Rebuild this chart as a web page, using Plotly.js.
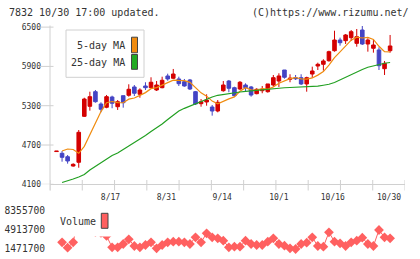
<!DOCTYPE html>
<html><head><meta charset="utf-8">
<script src="https://cdn.plot.ly/plotly-3.0.1.min.js"></script>
<style>html,body{margin:0;padding:0;background:#fff}#c{width:420px;height:259px}</style>
</head><body><div id="c"></div><script>
const dates = ['8/3','8/4','8/5','8/6','8/7','8/11','8/12','8/13','8/14','8/17','8/18','8/19','8/20','8/21','8/24','8/25','8/26','8/27','8/28','8/31',
 '9/1','9/2','9/3','9/4','9/7','9/8','9/9','9/10','9/11','9/14','9/15','9/16','9/17','9/18','9/23','9/24','9/25','9/28','9/29','9/30',
 '10/2','10/5','10/6','10/7','10/8','10/9','10/12','10/13','10/14','10/15','10/16','10/19','10/20','10/21','10/22','10/23','10/26','10/27','10/28','10/29','10/30'];
const openP  = [4600,4573,4521,4379,4436,5138,5291,5514,5326,5276,5433,5285,5453,5459,5586,5474,5601,5575,5540,5575,5754,5719,5708,5667,5693,5514,5331,5357,5280,5219,5529,5677,5575,5555,5616,5586,5484,5529,5514,5616,5677,5845,5703,5728,5728,5632,5784,5906,5932,5987,6140,6303,6293,6339,6252,6456,6242,6177,6151,5865,6140];
const highP  = [4606,4608,4547,4421,4929,5422,5514,5540,5352,5464,5453,5387,5453,5627,5616,5566,5658,5734,5677,5743,5789,5861,5743,5708,5708,5525,5402,5474,5311,5387,5677,5693,5590,5677,5642,5601,5566,5601,5632,5769,5795,5845,5780,5769,5780,5743,5896,5957,6009,6140,6445,6339,6395,6456,6471,6520,6329,6303,6192,5983,6380];
const lowP   = [4600,4445,4415,4369,4353,5128,5224,5346,5199,5261,5261,5235,5270,5438,5448,5422,5540,5566,5525,5566,5682,5708,5601,5590,5540,5311,5285,5300,5148,5199,5514,5505,5438,5540,5514,5438,5474,5490,5499,5590,5586,5713,5658,5693,5616,5514,5728,5845,5835,5972,6125,6217,6242,6288,6201,6227,6125,6110,5845,5769,6110];
const closeP = [4606,4512,4456,4405,4894,5402,5438,5361,5245,5438,5337,5361,5346,5551,5490,5540,5575,5658,5616,5688,5708,5784,5636,5601,5555,5326,5361,5387,5219,5352,5616,5566,5453,5658,5575,5463,5551,5551,5632,5728,5754,5734,5719,5713,5632,5728,5830,5932,5983,6125,6303,6262,6380,6430,6354,6242,6303,6227,5911,5947,6212];
const ma5  = [null,4608,4639,4631,4574,4680,4860,5050,5210,5345,5364,5348,5345,5400,5417,5458,5500,5560,5576,5615,5649,5691,5686,5683,5657,5580,5496,5446,5370,5329,5370,5405,5435,5520,5574,5543,5540,5560,5554,5585,5643,5680,5713,5730,5710,5705,5724,5767,5821,5920,6035,6121,6211,6300,6346,6334,6342,6311,6207,6126,6120];
const ma25 = [null,4128,4150,4181,4212,4250,4318,4372,4433,4486,4540,4578,4631,4677,4738,4792,4845,4906,4960,5021,5089,5158,5219,5260,5296,5326,5357,5395,5433,5459,5474,5490,5499,5509,5520,5529,5537,5548,5555,5561,5566,5574,5578,5580,5581,5583,5586,5598,5612,5627,5654,5693,5738,5780,5822,5853,5887,5911,5929,5948,5960];
const volume = [null,2676000,1705000,2676000,7500000,6200000,5200000,4500000,4350000,3810000,1777000,1777000,2370000,3215000,2011000,1777000,2191000,2676000,1597000,2191000,2676000,2784000,2784000,2676000,2370000,3575000,2676000,4294000,3575000,3395000,2964000,1777000,1885000,1885000,2964000,2370000,2191000,2191000,2784000,3395000,2370000,2065000,1597000,1472000,2370000,2604000,3575000,2011000,1885000,4473000,2784000,2496000,2011000,2676000,2964000,3503000,2370000,2011000,4887000,3575000,3395000];
const priceTicks = [4100,4700,5300,5900,6500];
const volTicks = [1471700,4913700,8355700];
const dateLabels = ['8/17','8/31','9/14','10/1','10/16','10/30'];
const dateLabelPos = [9.7,19.75,29.8,40.0,49.7,59.8];

const W=420,H=259;
const px=x=>x/W, py=y=>1-y/H;
const xi = dates.map((d,i)=>i);
const XR=[-1.17,62.68];
const mono='DejaVu Sans Mono';

const traces=[
 {type:'candlestick',x:xi,open:openP,high:highP,low:lowP,close:closeP,xaxis:'x',yaxis:'y',
  increasing:{line:{color:'#d40000',width:1},fillcolor:'#d40000'},
  decreasing:{line:{color:'#4444c4',width:1},fillcolor:'#4444c4'},
  whiskerwidth:0,showlegend:false,hoverinfo:'skip'},
 {type:'scatter',mode:'lines',x:xi,y:ma5,line:{color:'#f08c10',width:1.2},xaxis:'x',yaxis:'y',showlegend:false},
 {type:'scatter',mode:'lines',x:xi,y:ma25,line:{color:'#22a022',width:1.2},xaxis:'x',yaxis:'y',showlegend:false},
 {type:'scatter',mode:'lines+markers',x:xi,y:volume,line:{color:'#ff6060',width:1},
  marker:{symbol:'diamond',size:7.5,color:'#ff6060'},xaxis:'x2',yaxis:'y2',showlegend:false,connectgaps:false}
];

const shapes=[];
for(let k=0;k<=11;k++){
  const xv = XR[0]+k*(XR[1]-XR[0])/11;
  shapes.push({type:'line',xref:'x',yref:'paper',x0:xv,x1:xv,y0:py(180),y1:py(190.5),line:{color:'#d0d0d0',width:1}});
}
priceTicks.forEach(v=>shapes.push({type:'line',xref:'paper',yref:'y',x0:px(40),x1:px(53.5),y0:v,y1:v,line:{color:'#d0d0d0',width:1}}));
shapes.push({type:'line',xref:'paper',yref:'paper',x0:px(50),x1:px(50),y0:py(190.5),y1:py(25.5),line:{color:'#d0d0d0',width:1}});
shapes.push({type:'rect',xref:'paper',yref:'paper',x0:px(66),x1:px(144),y0:py(77.3),y1:py(30),line:{color:'#d0d0d0',width:1},fillcolor:'#fff',layer:'above'});
shapes.push({type:'rect',xref:'paper',yref:'paper',x0:px(131.5),x1:px(137.5),y0:py(52.8),y1:py(37.2),line:{color:'#444',width:1},fillcolor:'#f08c10',layer:'above'});
shapes.push({type:'rect',xref:'paper',yref:'paper',x0:px(131.5),x1:px(137.5),y0:py(69.3),y1:py(54.5),line:{color:'#444',width:1},fillcolor:'#22aa22',layer:'above'});
shapes.push({type:'rect',xref:'paper',yref:'paper',x0:px(52),x1:px(112),y0:py(236.5),y1:py(202),line:{width:0},fillcolor:'#fff',layer:'above'});
shapes.push({type:'rect',xref:'paper',yref:'paper',x0:px(101.3),x1:px(108),y0:py(228.3),y1:py(213.3),line:{color:'#444',width:1},fillcolor:'#ff6060',layer:'above'});

const annotations=[
 {text:'7832 10/30 17:00 updated.',xref:'paper',yref:'paper',x:px(7),y:py(12.5),xanchor:'left',yanchor:'middle',showarrow:false,font:{family:mono,size:10,color:'#333'}},
 {text:'(C)https://www.rizumu.net/',xref:'paper',yref:'paper',x:px(411),y:py(12.5),xanchor:'right',yanchor:'middle',showarrow:false,font:{family:mono,size:10,color:'#333'}},
 {text:'5-day MA',xref:'paper',yref:'paper',x:px(127.5),y:py(46),xanchor:'right',yanchor:'middle',showarrow:false,font:{family:mono,size:10,color:'#333'}},
 {text:'25-day MA',xref:'paper',yref:'paper',x:px(127.5),y:py(63),xanchor:'right',yanchor:'middle',showarrow:false,font:{family:mono,size:10,color:'#333'}},
 {text:'Volume',xref:'paper',yref:'paper',x:px(57.5),y:py(221.5),xanchor:'left',yanchor:'middle',showarrow:false,font:{family:mono,size:10,color:'#333'}}
];

const layout={
 width:W,height:H,margin:{l:0,r:0,t:0,b:0},paper_bgcolor:'#fff',plot_bgcolor:'rgba(0,0,0,0)',
 showlegend:false,boxgap:0.08,
 xaxis:{domain:[px(50),px(405)],range:XR,rangeslider:{visible:false},showgrid:false,zeroline:false,
   showline:true,linecolor:'#d0d0d0',linewidth:1,ticks:'',tickvals:dateLabelPos,ticktext:dateLabels,
   ticklabelstandoff:5,tickfont:{family:mono,size:8,color:'#333'},anchor:'y',fixedrange:true},
 yaxis:{domain:[py(184.3),py(26)],range:[4100,6517],showgrid:false,zeroline:false,showline:false,
   ticks:'',tickvals:priceTicks,ticktext:priceTicks.map(String),ticklabelstandoff:8,
   tickfont:{family:mono,size:8,color:'#333'},anchor:'x'},
 xaxis2:{domain:[px(50),px(405)],range:XR,showgrid:false,zeroline:false,showline:false,showticklabels:false,ticks:'',anchor:'y2'},
 yaxis2:{domain:[py(254),py(204)],range:[573000,9560000],showgrid:false,zeroline:false,showline:false,ticks:'',
   tickvals:volTicks,ticktext:volTicks.map(String),ticklabelstandoff:4,tickfont:{family:mono,size:9.6,color:'#333'},anchor:'x2'},
 shapes:shapes,annotations:annotations
};
Plotly.newPlot('c',traces,layout,{displayModeBar:false,staticPlot:true});
</script></body></html>
